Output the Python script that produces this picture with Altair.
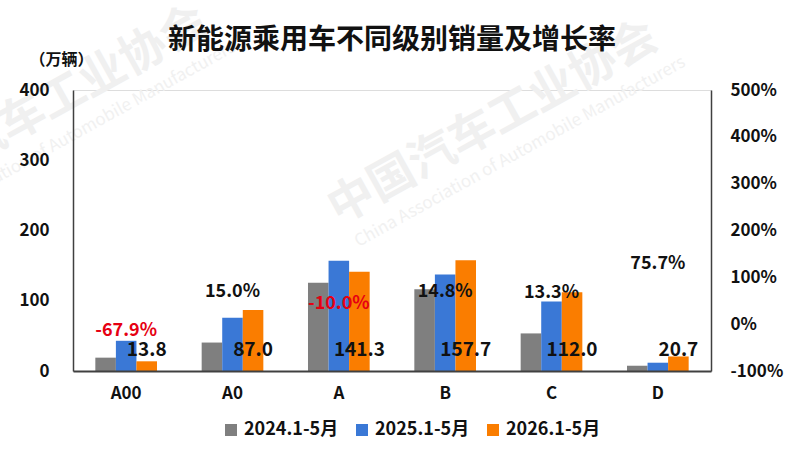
import altair as alt
import pandas as pd

categories = ["A00", "A0", "A", "B", "C", "D"]
series_names = ["2024.1-5月", "2025.1-5月", "2026.1-5月"]
sales_2024 = [19.0, 40.5, 125.5, 116.5, 53.5, 7.5]
sales_2025 = [43.0, 75.7, 157.0, 137.4, 98.9, 11.8]
sales_2026 = [13.8, 87.0, 141.3, 157.7, 112.0, 20.7]
growth = [-0.679, 0.150, -0.100, 0.148, 0.133, 0.757]
colors = ["#7F7F7F", "#3A78D6", "#FA7D00"]
title_text = "新能源乘用车不同级别销量及增长率"

FONT = "Noto Sans CJK SC"

rows = []
for s, vals in zip(series_names, [sales_2024, sales_2025, sales_2026]):
    for c, v in zip(categories, vals):
        rows.append({"category": c, "series": s, "value": v})
bars_df = pd.DataFrame(rows)
label_df = pd.DataFrame({"category": categories, "series": series_names[2], "value": sales_2026})
growth_df = pd.DataFrame({"category": categories, "growth": growth})

x_enc = alt.X(
    "category:N", sort=categories,
    scale=alt.Scale(paddingInner=0.42, paddingOuter=0.21),
    axis=alt.Axis(title=None, labelAngle=0, labelFontSize=17, labelFont=FONT,
                  labelFontWeight="bold", labelColor="#111111", labelPadding=14,
                  domainColor="#404040", domainWidth=2, ticks=False, zindex=1),
)
xoff = alt.XOffset("series:N", sort=series_names, scale=alt.Scale(domain=series_names, paddingInner=0))

bars = alt.Chart(bars_df).mark_bar().encode(
    x=x_enc,
    xOffset=xoff,
    y=alt.Y("value:Q", scale=alt.Scale(domain=[0, 400]),
            axis=alt.Axis(values=[0, 100, 200, 300, 400], title="（万辆）", titleAngle=0,
                          titleX=-12, titleY=-31, titleAlign="center", titleBaseline="middle",
                          titleFontSize=16, titleFont=FONT, titleFontWeight="bold", titleColor="#111111",
                          labelFontSize=17, labelFont=FONT, labelFontWeight="bold", labelColor="#111111",
                          labelPadding=24, domainColor="#404040", domainWidth=1.5, ticks=False,
                          grid=False, zindex=1)),
    color=alt.Color("series:N", sort=series_names,
                    scale=alt.Scale(domain=series_names, range=colors),
                    legend=alt.Legend(orient="none", legendX=149, legendY=331, direction="horizontal",
                                      title=None, symbolType="square", symbolSize=144,
                                      symbolStrokeWidth=0, symbolOpacity=1,
                                      labelFontSize=18, labelFont=FONT, labelFontWeight="bold",
                                      labelColor="#111111", columnPadding=14, labelOffset=4,
                                      labelLimit=200)),
)

value_labels = alt.Chart(label_df).mark_text(
    font=FONT, fontSize=19, fontWeight="bold", color="#111111", baseline="middle"
).encode(
    x=alt.X("category:N", sort=categories),
    xOffset=alt.XOffset("series:N", sort=series_names),
    y=alt.Y(datum=30),
    text=alt.Text("value:Q", format=".1f"),
)

wm_df = pd.DataFrame({"t": ["中国汽车工业协会"]})
wm_en_df = pd.DataFrame({"t": ["China Association of Automobile Manufacturers"]})
title_df = pd.DataFrame({"t": [title_text]})

WM_CN = "#f0f0f0"
WM_EN = "#f1f1f1"
wm1 = alt.Chart(wm_df).mark_text(font=FONT, fontSize=46, fontWeight="bold", color=WM_CN,
                                  angle=331, baseline="middle").encode(
    text="t:N", x=alt.value(420), y=alt.value(33))
wm2 = alt.Chart(wm_en_df).mark_text(font=FONT, fontSize=17, color=WM_EN,
                                     angle=331, baseline="middle").encode(
    text="t:N", x=alt.value(447), y=alt.value(62))
wm3 = alt.Chart(wm_df).mark_text(font=FONT, fontSize=46, fontWeight="bold", color=WM_CN,
                                  angle=331, baseline="middle").encode(
    text="t:N", x=alt.value(-30), y=alt.value(18))
wm4 = alt.Chart(wm_en_df).mark_text(font=FONT, fontSize=17, color=WM_EN,
                                     angle=331, baseline="middle").encode(
    text="t:N", x=alt.value(-3), y=alt.value(47))

title_mark = alt.Chart(title_df).mark_text(font=FONT, fontSize=28, fontWeight="bold",
                                           color="#111111", baseline="middle", align="center").encode(
    text="t:N", x=alt.value(319), y=alt.value(-49))

left = alt.layer(wm1, wm2, wm3, wm4, bars, value_labels, title_mark)

growth_labels = alt.Chart(growth_df).transform_calculate(
    label="replace(format(datum.growth, '.1%'), '\u2212', '-')"
).mark_text(
    font=FONT, fontSize=18, fontWeight="bold", baseline="middle", dy=-25
).encode(
    x=alt.X("category:N", sort=categories),
    y=alt.Y("growth:Q", scale=alt.Scale(domain=[-1, 5]),
            axis=alt.Axis(orient="right", values=[-1, 0, 1, 2, 3, 4, 5], title=None,
                          labelExpr="replace(format(datum.value, '.0%'), '\u2212', '-')",
                          labelFontSize=17, labelFont=FONT, labelFontWeight="bold", labelColor="#111111",
                          labelPadding=19, domainColor="#404040", domainWidth=1.5, ticks=False,
                          grid=False, zindex=1)),
    text=alt.Text("label:N"),
    color=alt.condition("datum.growth < 0", alt.value("#E60012"), alt.value("#111111")),
)

chart = alt.layer(left, growth_labels).resolve_scale(y="independent").properties(
    width=638, height=281,
    padding={"left": 73, "top": 90, "right": 89, "bottom": 83},
    autosize=alt.AutoSizeParams(type="none"),
).configure_view(stroke=None).configure(background="white")

chart.save("out.html", embed_options={"renderer": "svg", "actions": False})
